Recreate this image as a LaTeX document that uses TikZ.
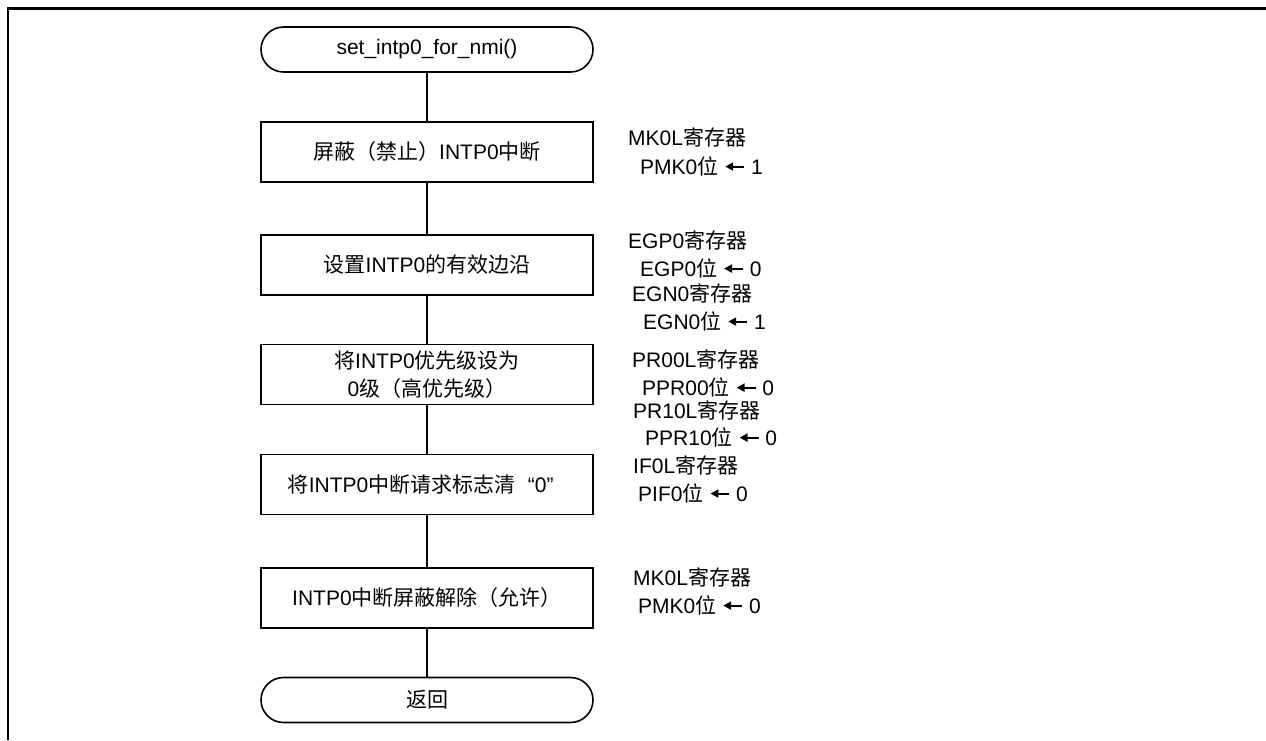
\documentclass[tikz,border=0pt]{standalone}
\usepackage{fontspec}
\setmainfont{Liberation Sans}
\newfontfamily\cjk{Noto Sans CJK SC}
\newcommand{\zh}[1]{{\cjk #1}}
\usetikzlibrary{arrows.meta}
\newcommand{\setto}{\tikz[baseline=-7.5pt]\draw[-{Triangle[length=8pt,width=8pt]}, line width=2pt] (19pt,0) -- (0,0);}

\tikzset{
  proc/.style={draw, line width=1.6pt, minimum width=332pt, minimum height=60pt, inner sep=0pt, align=center},
  term/.style={draw, line width=1.6pt, rounded corners=22.5pt, minimum width=332pt, minimum height=45pt, inner sep=0pt},
  reg/.style={anchor=west, inner sep=0pt},
}

\begin{document}
\begin{tikzpicture}[x=1pt, y=-1pt, every node/.style={font=\fontsize{21}{28}\selectfont}]
      \useasboundingbox (0,0) rectangle (1266,740);
      \draw[line width=2.4pt] (7.7,740) -- (7.7,8.3) -- (1266,8.3);

      % flow
      \node[term] (S) at (427,49.5) {set\_intp0\_for\_nmi()};
      \node[proc] (P1) at (427,152) {\zh{屏蔽（禁止）}INTP0\zh{中断}};
      \node[proc] (P2) at (427,265) {\zh{设置}INTP0\zh{的有效边沿}};
      \node[proc] (P3) at (427,374.5) {\zh{将}INTP0\zh{优先级设为}\\0\zh{级（高优先级）}};
      \node[proc] (P4) at (427,484.5) {\zh{将}INTP0\zh{中断请求标志清}\hspace{0.6em}“0”\hspace{0.6em}};
      \node[proc] (P5) at (427,598) {INTP0\zh{中断屏蔽解除（允许）}};
      \node[term] (E) at (427,700) {\zh{返回}};
      \foreach \a/\b in {S/P1, P1/P2, P2/P3, P3/P4, P4/P5, P5/E}
        \draw[line width=1.2pt] (\a) -- (\b);

      % registers
      \node[reg] (R1a) at (628,137) {MK0L\zh{寄存器}};
      \node[reg] (R1b) at (640,166) {PMK0\zh{位} \setto{} 1};
      \node[reg] (R2a) at (628,240) {EGP0\zh{寄存器}};
      \node[reg] (R2b) at (640,268) {EGP0\zh{位} \setto{} 0};
      \node[reg] (R2c) at (632,293) {EGN0\zh{寄存器}};
      \node[reg] (R2d) at (643,321) {EGN0\zh{位} \setto{} 1};
      \node[reg] (R3a) at (632,359) {PR00L\zh{寄存器}};
      \node[reg] (R3b) at (642,387) {PPR00\zh{位} \setto{} 0};
      \node[reg] (R3c) at (633,410) {PR10L\zh{寄存器}};
      \node[reg] (R3d) at (645,437) {PPR10\zh{位} \setto{} 0};
      \node[reg] (R4a) at (633,465) {IF0L\zh{寄存器}};
      \node[reg] (R4b) at (638,493) {PIF0\zh{位} \setto{} 0};
      \node[reg] (R5a) at (633,577) {MK0L\zh{寄存器}};
      \node[reg] (R5b) at (638,605) {PMK0\zh{位} \setto{} 0};
\end{tikzpicture}
\end{document}
